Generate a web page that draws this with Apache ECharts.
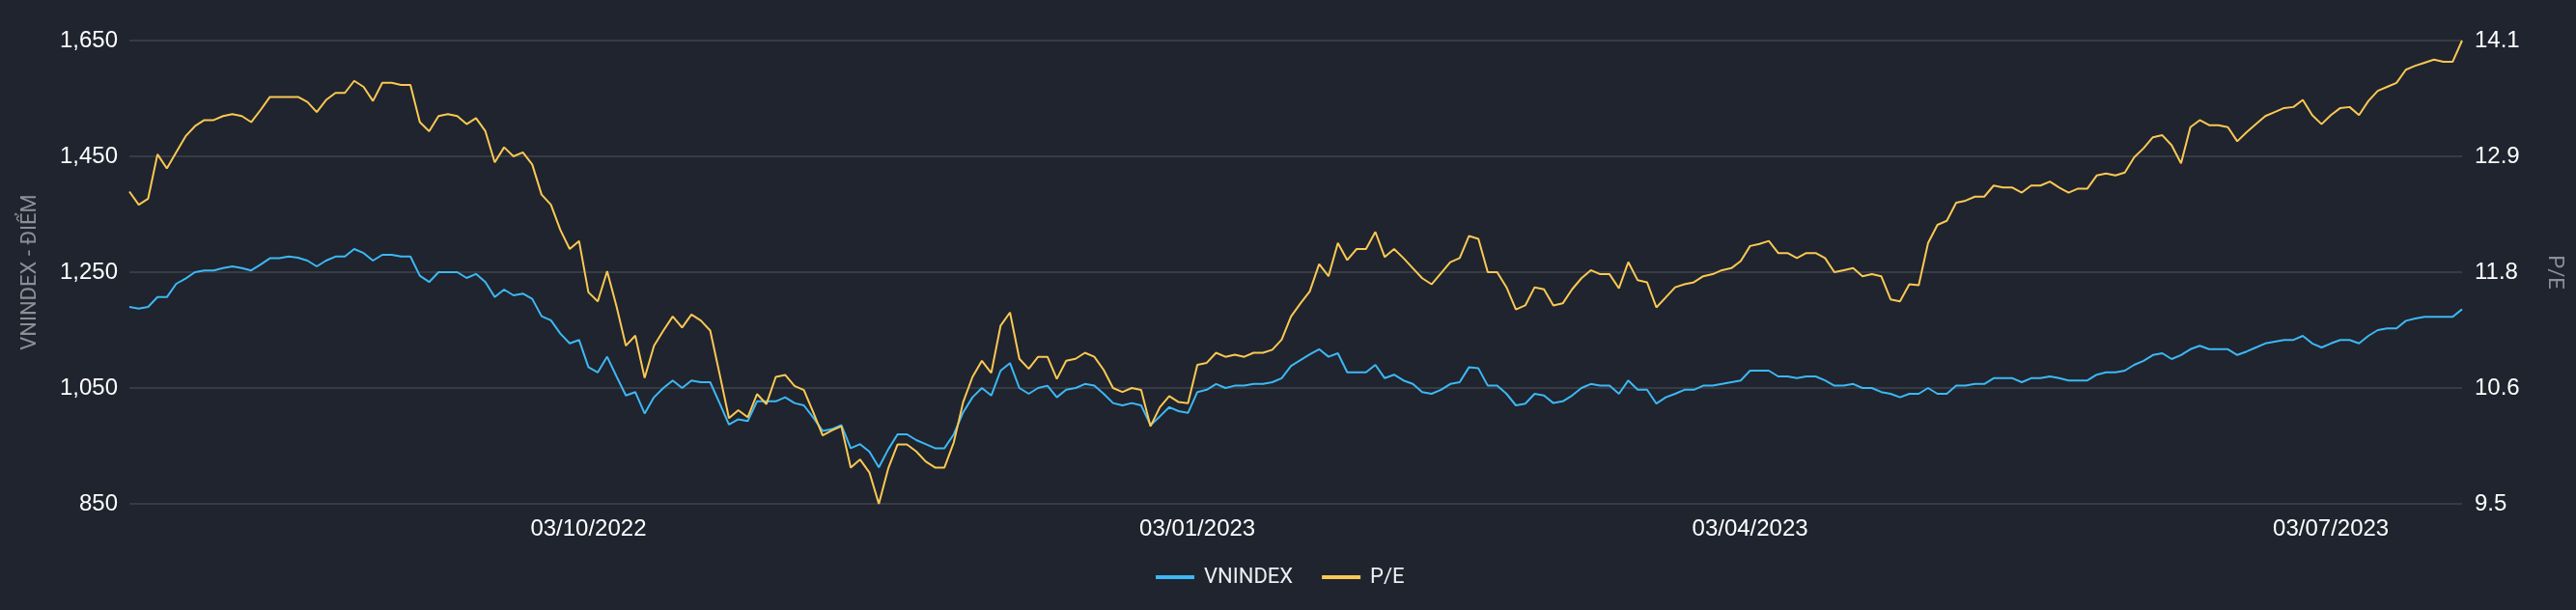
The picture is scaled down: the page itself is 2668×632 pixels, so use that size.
<!DOCTYPE html>
<html>
<head>
<meta charset="utf-8">
<title>VNINDEX - P/E</title>
<script src="https://cdn.jsdelivr.net/npm/echarts@6/dist/echarts.min.js"></script>
<style>
  html, body { margin: 0; padding: 0; background: #1f242e; }
  #chart { width: 2668px; height: 632px; }
</style>
</head>
<body>
<div id="chart"></div>
<script>
// trading calendar (HOSE), 22/07/2022 -> 21/07/2023
const startDate = '2022-07-22';
const endDate = '2023-07-21';
const holidays = ['2022-09-01', '2022-09-02', '2023-01-02', '2023-01-20', '2023-01-23',
  '2023-01-24', '2023-01-25', '2023-01-26', '2023-05-01', '2023-05-02', '2023-05-03'];

// x labels shown (first session of each quarter)
const quarterLabels = ['03/10/2022', '03/01/2023', '03/04/2023', '03/07/2023'];

const vnindex = [
  1190, 1187, 1190, 1207, 1207, 1230, 1239, 1250, 1253, 1253,
  1257, 1260, 1257, 1253, 1263, 1274, 1274, 1277, 1275, 1270,
  1260, 1270, 1277, 1277, 1290, 1283, 1270, 1280, 1280, 1277,
  1277, 1244, 1233, 1250, 1250, 1250, 1240, 1247, 1233, 1207,
  1220, 1210, 1213, 1204, 1174, 1167, 1144, 1127, 1133, 1086,
  1077, 1104, 1070, 1037, 1043, 1006, 1034, 1050, 1063, 1050,
  1063, 1060, 1060, 1024, 987, 996, 993, 1027, 1027, 1027,
  1034, 1024, 1020, 999, 976, 979, 986, 946, 953, 940,
  913, 944, 970, 970, 960, 953, 946, 946, 970, 1008,
  1034, 1050, 1037, 1080, 1093, 1050, 1040, 1050, 1054, 1034,
  1047, 1050, 1057, 1054, 1040, 1024, 1020, 1024, 1020, 986,
  1001, 1017, 1010, 1007, 1043, 1047, 1057, 1050, 1054, 1054,
  1057, 1057, 1060, 1067, 1088, 1098, 1108, 1117, 1104, 1110,
  1077, 1077, 1077, 1090, 1067, 1073, 1063, 1057, 1043, 1040,
  1047, 1057, 1060, 1086, 1084, 1054, 1054, 1040, 1020, 1023,
  1040, 1037, 1024, 1027, 1037, 1050, 1057, 1054, 1054, 1040,
  1063, 1047, 1047, 1023, 1034, 1040, 1047, 1047, 1054, 1054,
  1057, 1060, 1063, 1080, 1080, 1080, 1070, 1070, 1067, 1070,
  1070, 1063, 1054, 1054, 1057, 1050, 1050, 1043, 1040, 1034,
  1040, 1040, 1050, 1040, 1040, 1054, 1054, 1057, 1057, 1067,
  1067, 1067, 1060, 1067, 1067, 1070, 1067, 1063, 1063, 1063,
  1073, 1077, 1077, 1080, 1090, 1097, 1107, 1110, 1100, 1107,
  1117, 1123, 1117, 1117, 1117, 1107, 1113, 1120, 1127, 1130,
  1133, 1133, 1140, 1127, 1120, 1127, 1133, 1133, 1127, 1140,
  1150, 1153, 1153, 1166, 1170, 1173, 1173, 1173, 1173, 1186
];

const pe = [
  12.60, 12.47, 12.53, 12.97, 12.83, 12.99, 13.15, 13.25, 13.31, 13.31,
  13.35, 13.37, 13.35, 13.29, 13.41, 13.54, 13.54, 13.54, 13.54, 13.49,
  13.39, 13.51, 13.58, 13.58, 13.70, 13.64, 13.50, 13.68, 13.68, 13.66,
  13.66, 13.29, 13.20, 13.35, 13.37, 13.35, 13.27, 13.33, 13.20, 12.89,
  13.04, 12.95, 12.99, 12.87, 12.57, 12.47, 12.22, 12.03, 12.11, 11.60,
  11.51, 11.81, 11.46, 11.07, 11.17, 10.75, 11.07, 11.22, 11.36, 11.25,
  11.38, 11.32, 11.22, 10.79, 10.35, 10.43, 10.36, 10.59, 10.49, 10.76,
  10.78, 10.67, 10.63, 10.41, 10.18, 10.23, 10.27, 9.86, 9.94, 9.81,
  9.50, 9.85, 10.09, 10.09, 10.02, 9.92, 9.86, 9.86, 10.11, 10.51,
  10.76, 10.92, 10.80, 11.27, 11.40, 10.94, 10.84, 10.96, 10.96, 10.74,
  10.92, 10.94, 11.00, 10.96, 10.83, 10.65, 10.61, 10.65, 10.63, 10.27,
  10.46, 10.57, 10.51, 10.50, 10.88, 10.90, 11.00, 10.96, 10.98, 10.96,
  11.00, 11.00, 11.03, 11.13, 11.36, 11.49, 11.61, 11.88, 11.76, 12.09,
  11.92, 12.03, 12.03, 12.20, 11.95, 12.03, 11.94, 11.84, 11.74, 11.68,
  11.79, 11.90, 11.94, 12.16, 12.13, 11.80, 11.80, 11.65, 11.43, 11.47,
  11.65, 11.63, 11.47, 11.49, 11.63, 11.74, 11.82, 11.78, 11.78, 11.64,
  11.90, 11.72, 11.70, 11.45, 11.55, 11.65, 11.68, 11.70, 11.76, 11.78,
  11.82, 11.84, 11.91, 12.06, 12.08, 12.11, 11.99, 11.99, 11.94, 11.99,
  11.99, 11.94, 11.80, 11.82, 11.84, 11.76, 11.78, 11.76, 11.53, 11.51,
  11.68, 11.67, 12.09, 12.27, 12.31, 12.49, 12.51, 12.55, 12.55, 12.66,
  12.64, 12.64, 12.59, 12.66, 12.66, 12.70, 12.64, 12.59, 12.63, 12.63,
  12.76, 12.78, 12.76, 12.79, 12.94, 13.03, 13.14, 13.16, 13.06, 12.88,
  13.24, 13.31, 13.26, 13.26, 13.24, 13.10, 13.19, 13.27, 13.35, 13.39,
  13.43, 13.44, 13.51, 13.36, 13.27, 13.36, 13.43, 13.44, 13.36, 13.50,
  13.60, 13.64, 13.68, 13.81, 13.85, 13.88, 13.91, 13.89, 13.89, 14.10
];

function pad(n) { return n < 10 ? '0' + n : '' + n; }

function tradingDays(from, to, skip) {
  const out = [];
  const d = new Date(from + 'T00:00:00Z');
  const end = new Date(to + 'T00:00:00Z');
  while (d <= end) {
    const wd = d.getUTCDay();
    const iso = d.toISOString().slice(0, 10);
    if (wd !== 0 && wd !== 6 && skip.indexOf(iso) < 0) {
      out.push(pad(d.getUTCDate()) + '/' + pad(d.getUTCMonth() + 1) + '/' + d.getUTCFullYear());
    }
    d.setUTCDate(d.getUTCDate() + 1);
  }
  return out;
}

const dates = tradingDays(startDate, endDate, holidays);

const labelFont = 'Liberation Sans, Arial, Helvetica, sans-serif';
const textFont = 'Roboto, Noto Sans, sans-serif';

let option = {
  backgroundColor: '#1f242e',
  animation: false,
  tooltip: { trigger: 'axis' },
  legend: {
    data: ['VNINDEX', 'P/E'],
    icon: 'rect',
    left: 1197,
    top: 587,
    padding: 0,
    itemWidth: 40,
    itemHeight: 4,
    itemGap: 30,
    textStyle: { color: '#eceff3', fontSize: 22, fontFamily: textFont, padding: [0, 0, 0, 5] }
  },
  grid: {
    left: 134,
    right: 118,
    top: 42,
    bottom: 110
  },
  xAxis: {
    type: 'category',
    data: dates,
    boundaryGap: false,
    axisLine: { show: false },
    axisTick: { show: false },
    splitLine: { show: false },
    axisLabel: {
      color: '#ffffff',
      fontSize: 24,
      fontFamily: labelFont,
      margin: 14,
      interval: (idx, value) => quarterLabels.indexOf(value) >= 0
    }
  },
  yAxis: [
    {
      type: 'value',
      position: 'left',
      min: 850,
      max: 1650,
      interval: 200,
      name: 'VNINDEX - ĐIỂM',
      nameLocation: 'middle',
      nameGap: 92,
      nameTextStyle: { color: '#8b8f97', fontSize: 22, fontFamily: textFont },
      axisLine: { show: false },
      axisTick: { show: false },
      splitLine: { lineStyle: { color: '#373b43', width: 2 } },
      axisLabel: {
        color: '#ffffff',
        fontSize: 24,
        fontFamily: labelFont,
        margin: 12,
        formatter: v => String(v).replace(/\B(?=(\d{3})+(?!\d))/g, ',')
      }
    },
    {
      type: 'value',
      position: 'right',
      min: 9.5,
      max: 14.1,
      interval: 1.15,
      name: 'P/E',
      nameLocation: 'middle',
      nameRotate: -90,
      nameGap: 84,
      nameTextStyle: { color: '#8b8f97', fontSize: 22, fontFamily: textFont },
      axisLine: { show: false },
      axisTick: { show: false },
      splitLine: { show: false },
      axisLabel: {
        color: '#ffffff',
        fontSize: 24,
        fontFamily: labelFont,
        margin: 13,
        formatter: v => (Math.floor(v * 10 + 1e-6) / 10).toFixed(1)
      }
    }
  ],
  series: [
    {
      name: 'VNINDEX',
      type: 'line',
      yAxisIndex: 0,
      data: vnindex,
      symbol: 'none',
      color: '#3db8f5',
      lineStyle: { width: 2, color: '#3db8f5' }
    },
    {
      name: 'P/E',
      type: 'line',
      yAxisIndex: 1,
      data: pe,
      symbol: 'none',
      color: '#fbc853',
      lineStyle: { width: 2, color: '#fbc853' }
    }
  ]
};

let myChart = echarts.init(document.getElementById('chart'));
myChart.setOption(option);
</script>
</body>
</html>
